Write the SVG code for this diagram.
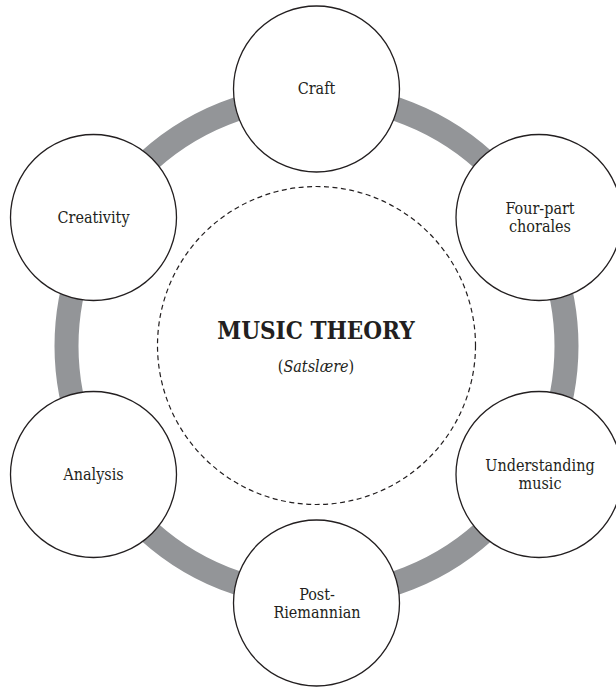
<svg xmlns="http://www.w3.org/2000/svg" width="616" height="687" viewBox="0 0 616 687">
<style>
.node circle{fill:#fff;stroke:#231f20;stroke-width:1.3}
.lbl{font-family:"DejaVu Serif Condensed","DejaVu Serif",serif;font-stretch:condensed;font-size:16px;fill:#231f20;text-anchor:middle}
.title{font-family:"DejaVu Serif Condensed","DejaVu Serif",serif;font-stretch:condensed;font-size:24px;font-weight:bold;fill:#231f20;text-anchor:middle}
</style>
<rect width="616" height="687" fill="#fff"/>
<g id="connectors">
<circle cx="316.5" cy="346" r="250" fill="none" stroke="#939598" stroke-width="24"/>
</g>
<g id="center">
<circle cx="316.5" cy="345.5" r="159" fill="none" stroke="#231f20" stroke-width="1.2" stroke-dasharray="5,3.5"/>
<text class="title" x="316" y="339">MUSIC THEORY</text>
<text class="lbl" x="316" y="372">(<tspan font-style="italic">Satslære</tspan>)</text>
</g>
<g id="craft" class="node">
<circle cx="316.5" cy="89" r="83"/>
<text class="lbl" x="316.5" y="94">Craft</text>
</g>
<g id="fourpart" class="node">
<circle cx="539" cy="217.5" r="83"/>
<text class="lbl" x="540" y="214">Four-part</text>
<text class="lbl" x="540" y="232">chorales</text>
</g>
<g id="understanding" class="node">
<circle cx="539" cy="474.5" r="83"/>
<text class="lbl" x="540" y="471">Understanding</text>
<text class="lbl" x="540" y="489">music</text>
</g>
<g id="postriemannian" class="node">
<circle cx="316.5" cy="603" r="83"/>
<text class="lbl" x="317" y="600">Post-</text>
<text class="lbl" x="317" y="618">Riemannian</text>
</g>
<g id="analysis" class="node">
<circle cx="93.5" cy="474.5" r="83"/>
<text class="lbl" x="93.5" y="480">Analysis</text>
</g>
<g id="creativity" class="node">
<circle cx="93.5" cy="217.5" r="83"/>
<text class="lbl" x="93.5" y="223">Creativity</text>
</g>
</svg>
